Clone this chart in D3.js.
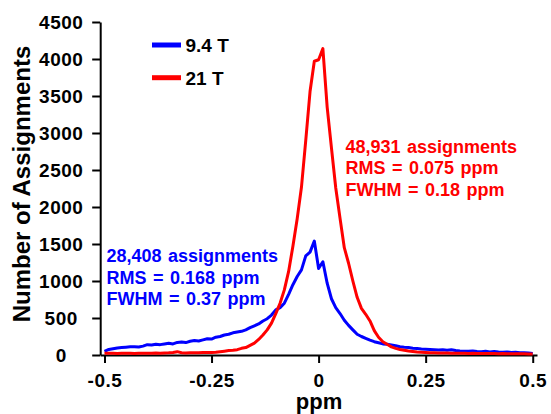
<!DOCTYPE html>
<html>
<head>
<meta charset="utf-8">
<script src="https://cdn.jsdelivr.net/npm/d3@7"></script>
<style>
  html, body { margin: 0; padding: 0; background: #fff; }
  svg { display: block; font-family: "Liberation Sans", Arial, sans-serif; font-weight: bold; }
</style>
</head>
<body>
<svg id="chart" width="551" height="414"></svg>
<script>
// Chemical shift bins (ppm), 0.01 ppm wide
const shifts = d3.range(-50, 51).map(i => +(i / 100).toFixed(2));

// Histogram counts per bin at 9.4 T
const counts94 = [
  50, 75, 85, 95, 100, 105, 110, 112, 108, 120,
  140, 135, 145, 140, 150, 160, 150, 170, 175, 168,
  185, 195, 190, 205, 220, 215, 240, 250, 270, 280,
  300, 310, 320, 340, 370, 395, 420, 460, 490, 540,
  610, 640, 700, 820, 950, 1060, 1150, 1340, 1390, 1540,
  1170,
  1260, 970, 760, 640, 560, 470, 400, 340, 280, 250,
  225, 200, 180, 165, 150, 145, 135, 125, 112, 105,
  100, 92, 88, 82, 78, 75, 72, 68, 70, 65,
  72, 60, 55, 52, 50, 55, 48, 45, 50, 42,
  48, 40, 38, 42, 35, 38, 32, 30, 28, 22
];

// Histogram counts per bin at 21 T
const counts21 = [
  22, 25, 22, 20, 24, 22, 25, 20, 24, 22,
  25, 23, 26, 24, 28, 30, 35, 45, 30, 28,
  30, 32, 30, 35, 33, 35, 38, 45, 52, 60,
  65, 72, 90, 100, 130, 160, 210, 270, 340, 430,
  560, 700, 880, 1130, 1470, 1840, 2270, 2900, 3560, 3970,
  3990,
  4140, 3350, 2800, 2260, 1850, 1450, 1240, 1000, 780, 630,
  550, 460, 330, 240, 180, 145, 110, 90, 75, 65,
  55, 48, 42, 38, 35, 32, 30, 28, 27, 26,
  24, 25, 22, 23, 21, 22, 20, 21, 20, 19,
  20, 18, 19, 18, 17, 18, 16, 17, 15, 15
];

const seriesNames = ["9.4 T", "21 T"];
const seriesColors = ["#0000ff", "#ff0000"];

const xTicks = [-0.5, -0.25, 0, 0.25, 0.5];
const xTickLabels = ["-0.5", "-0.25", "0", "0.25", "0.5"];
const yTicks = d3.range(0, 4501, 500);

const statsLines94 = ["28,408 assignments", "RMS = 0.168 ppm", "FWHM = 0.37 ppm"];
const statsLines21 = ["48,931 assignments", "RMS = 0.075 ppm", "FWHM = 0.18 ppm"];

const svg = d3.select("#chart");

const x = d3.scaleLinear().domain([-0.51, 0.51]).range([100.2, 537]);
const y = d3.scaleLinear().domain([0, 4500]).range([355, 22]);

// Axes
const xAxis = d3.axisBottom(x)
  .tickValues(xTicks)
  .tickFormat((d, i) => xTickLabels[i])
  .tickSize(8).tickSizeOuter(0).tickPadding(11);

const yAxis = d3.axisLeft(y)
  .tickValues(yTicks)
  .tickFormat(d3.format("d"))
  .tickSize(8).tickSizeOuter(0).tickPadding(9);

const gx = svg.append("g").attr("transform", `translate(0,${y(0)})`).call(xAxis);
const gy = svg.append("g").attr("transform", `translate(${x(-0.51)},0)`).call(yAxis);

[gx, gy].forEach(g => {
  g.select(".domain").attr("stroke", "#000").attr("stroke-width", 2);
  g.selectAll(".tick line").attr("stroke", "#000").attr("stroke-width", 2);
  g.selectAll(".tick text")
    .attr("fill", "#000")
    .style("font-size", "19px")
    .style("font-weight", "bold")
    .style("letter-spacing", "0.5px")
    .style("font-family", "'Liberation Sans', Arial, sans-serif");
});

// y tick labels are centred in their column
gy.selectAll(".tick text").attr("x", -39).attr("text-anchor", "middle");

// Curves
const line = d3.line()
  .x((d, i) => x(shifts[i]))
  .y(d => y(d));

[counts94, counts21].forEach((vals, k) => {
  svg.append("path")
    .datum(vals)
    .attr("d", line)
    .attr("fill", "none")
    .attr("stroke", seriesColors[k])
    .attr("stroke-width", 3)
    .attr("stroke-linejoin", "round");
});

// Axis titles
svg.append("text")
  .attr("transform", "translate(30,184) rotate(-90)")
  .attr("text-anchor", "middle")
  .style("font-size", "24px")
  .text("Number of Assignments");

svg.append("text")
  .attr("x", 319).attr("y", 409)
  .attr("text-anchor", "middle")
  .style("font-size", "22px")
  .text("ppm");

// Legend
const legend = svg.append("g");
seriesNames.forEach((name, k) => {
  const ly = 45 + k * 32.7;
  legend.append("line")
    .attr("x1", 152).attr("x2", 181)
    .attr("y1", ly).attr("y2", ly)
    .attr("stroke", seriesColors[k]).attr("stroke-width", 5);
  legend.append("text")
    .attr("x", 185.5).attr("y", ly + 7)
    .style("font-size", "19px")
    .text(name);
});

// Statistics annotations
function statsBlock(lines, x0, y0, color) {
  const t = svg.append("text")
    .attr("fill", color)
    .style("font-size", "18px")
    .style("word-spacing", "1.5px");
  lines.forEach((s, i) => {
    t.append("tspan").attr("x", x0).attr("y", y0 + i * 21.3).text(s);
  });
}
statsBlock(statsLines94, 106.5, 262.3, seriesColors[0]);
statsBlock(statsLines21, 345.5, 153, seriesColors[1]);
</script>
</body>
</html>
